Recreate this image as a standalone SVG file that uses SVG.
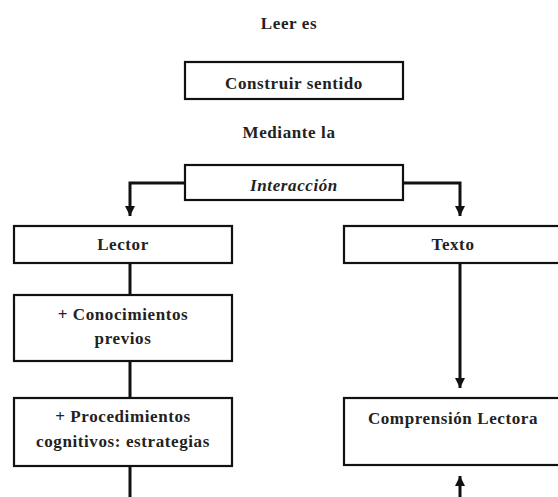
<svg xmlns="http://www.w3.org/2000/svg" width="558" height="497" viewBox="0 0 558 497">
<defs>
<marker id="ah" viewBox="0 0 10 10" refX="10" refY="5" markerWidth="10" markerHeight="10" markerUnits="userSpaceOnUse" orient="auto">
<path d="M0,0 L10,5 L0,10 z" fill="#111"/>
</marker>
<style>
.box{fill:#fff;stroke:#111;stroke-width:2.2}
.t{font-family:"Liberation Serif","Times New Roman",serif;font-weight:bold;font-size:17px;fill:#222;text-anchor:middle;letter-spacing:0.6px}
.it{font-style:italic}
.c{fill:none;stroke:#111;stroke-width:3}
</style>
</defs>
<rect width="558" height="497" fill="#fff"/>
<g id="labels">
<text class="t" x="289" y="29">Leer es</text>
<text class="t" x="289" y="138">Mediante la</text>
</g>
<g id="connectors">
<path class="c" d="M185,183 H130 V216" marker-end="url(#ah)"/>
<path class="c" d="M403,183 H460 V216" marker-end="url(#ah)"/>
<path class="c" d="M130,263 V295"/>
<path class="c" d="M130,361 V398"/>
<path class="c" d="M130,466 V497"/>
<path class="c" d="M460,263 V388" marker-end="url(#ah)"/>
<path class="c" d="M460,497 V476" marker-end="url(#ah)"/>
</g>
<g id="construir">
<rect class="box" x="185" y="62" width="218" height="37"/>
<text class="t" x="294" y="89">Construir sentido</text>
</g>
<g id="interaccion">
<rect class="box" x="185" y="165" width="218" height="35"/>
<text class="t it" x="294" y="191">Interacción</text>
</g>
<g id="lector">
<rect class="box" x="14" y="226" width="218" height="37"/>
<text class="t" x="123" y="250">Lector</text>
</g>
<g id="texto">
<rect class="box" x="344" y="226" width="218" height="37"/>
<text class="t" x="453" y="250">Texto</text>
</g>
<g id="conocimientos">
<rect class="box" x="14" y="295" width="218" height="66"/>
<text class="t" x="123" y="320">+ Conocimientos</text>
<text class="t" x="123" y="344">previos</text>
</g>
<g id="procedimientos">
<rect class="box" x="14" y="398" width="218" height="68"/>
<text class="t" x="123" y="422">+ Procedimientos</text>
<text class="t" x="123" y="447">cognitivos: estrategias</text>
</g>
<g id="comprension">
<rect class="box" x="344" y="398" width="218" height="67"/>
<text class="t" x="453" y="424">Comprensión Lectora</text>
</g>
</svg>
